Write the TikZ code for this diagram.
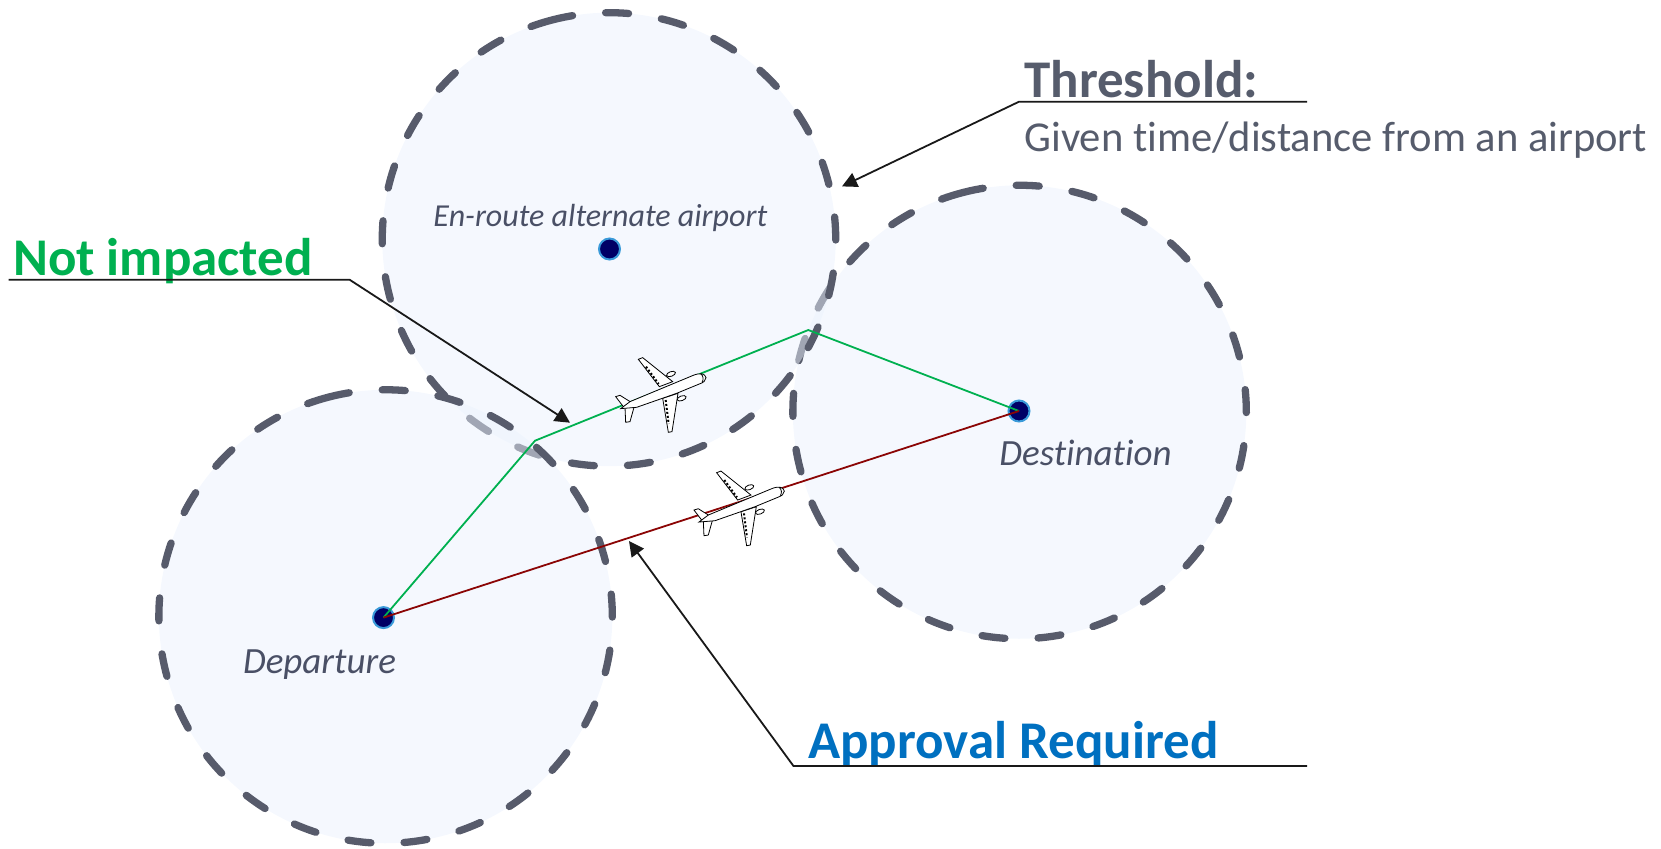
\documentclass[tikz,border=0pt]{standalone}
\usepackage{fontspec}
\setmainfont[Ligatures=NoCommon]{Carlito}
\usetikzlibrary{arrows.meta}
\definecolor{zonefill}{HTML}{EBF2FD}
\definecolor{zoneline}{HTML}{575B6B}
\definecolor{slatetext}{HTML}{565C6C}
\definecolor{placetext}{HTML}{4A5066}
\definecolor{routegreen}{HTML}{00B050}
\definecolor{routered}{HTML}{8B0505}
\definecolor{calloutblue}{HTML}{0070C0}
\definecolor{dotfill}{HTML}{000066}
\definecolor{dotline}{HTML}{3A9AD9}
\tikzset{
	zone/.style={circle,minimum size=226.7pt,inner sep=0pt,outer sep=0pt,draw=zoneline,fill=zonefill,fill opacity=0.5,line width=3.65pt,line cap=round,dash pattern=on 11.5pt off 16.59pt},
	airport/.style={circle,minimum size=10.5pt,inner sep=0pt,fill=dotfill,draw=dotline,line width=1pt},
	route/.style={line width=0.9pt},
	leader/.style={line width=0.9pt,black!90},
	placename/.style={anchor=base west,inner sep=0pt,text=placetext,font=\fontsize{#1}{20}\selectfont\itshape},
	headline/.style={anchor=base west,inner sep=0pt,font=\fontsize{26.5}{30}\selectfont\bfseries},
	plane/.pic={
		\begin{scope}[scale=1/3,draw=black,fill=white,line width=0.4pt]
			% Wings and engines
			\filldraw (-2,-20) -- (-65,-102) -- (-52,-107) -- (38,-35) -- cycle;
			\filldraw (8,15) -- (25,117) -- (36,115) -- (54,0) -- cycle;
			\filldraw[rotate around={20:(33,-58)}] (33,-58) ellipse [x radius=14,y radius=7];
			\filldraw[rotate around={20:(65,15)}] (65,15) ellipse [x radius=14,y radius=7];
			\draw[line width=1pt,densely dotted] (-42,-80) -- (-4,-28);
			\draw[line width=1pt,densely dotted] (17,20) -- (26,92);
			% Tail
			\filldraw (-133,10) -- (-120,6) -- (-85,28) -- (-110,40) -- cycle;
			\filldraw (-105,42) -- (-103,87) -- (-90,85) -- (-78,42) -- cycle;
			% Body
			\filldraw (138,-47) .. controls (135,-60) and (120,-62) .. (100,-54) -- (-90,25) -- (-118,46) -- (-70,42) -- (50,0) -- (118,-28) .. controls (130,-32) and (138,-38) .. cycle;
			\draw (122,-59) .. controls (130,-52) and (132,-42) .. (126,-33);
		\end{scope}
	}
}
\begin{document}
\begin{tikzpicture}[x=0.5pt,y=-0.5pt]
	\useasboundingbox (0,0) rectangle (1661,848);

	% Threshold circles
	\node[zone,rotate=104.3] (destinationzone) at (1019.6,412) {};
	\node[zone,rotate=104.3] (alternatezone) at (609,239.4) {};
	\node[zone,rotate=104.3] (departurezone) at (385.6,616.5) {};

	% Airports
	\node[airport] (alternate) at (609.5,249) {};
	\node[airport] (departure) at (383.5,617.6) {};
	\node[airport] (destination) at (1019,411) {};

	% Routes
	\coordinate (turnA) at (535,440.7);
	\coordinate (turnB) at (808.3,330);
	\draw[route,routegreen] (departure.center) -- (turnA) -- (turnB) -- (destination.center);
	\draw[route,routered] (departure.center) -- (destination.center);

	% Aircraft
	\pic (greenplane) at (660,393.3) {plane};
	\pic (redplane) at (738.3,506.7) {plane};

	% Labels
	\node[placename=16] (alternatelabel) at (433,226) {En-route alternate airport};
	\node[placename=18.5] (departurelabel) at (242.6,673.5) {Departure};
	\node[placename=18.5] (destinationlabel) at (999,465) {Destination};
	\node[headline,text=slatetext] (thresholdlabel) at (1024,97.5) {Threshold:};
	\node[anchor=base west,inner sep=0pt,text=slatetext,font=\fontsize{21.3}{24}\selectfont] (thresholdnote) at (1024,151) {Given time/distance from an airport};
	\node[headline,text=routegreen] (notimpactedlabel) at (12.7,275) {Not impacted};
	\node[headline,text=calloutblue] (approvallabel) at (808,758) {Approval Required};

	% Call-out lines
	\coordinate (thresholdend) at (1307,101.7);
	\coordinate (thresholdbend) at (1019,101.7);
	\coordinate (thresholdtip) at (842,186.4);
	\draw[leader,-{Triangle[length=7.5pt,width=7.5pt]}] (thresholdend) -- (thresholdbend) -- (thresholdtip);
	\coordinate (notimpactedend) at (8.5,279.7);
	\coordinate (notimpactedbend) at (349.6,279.7);
	\coordinate (notimpactedtip) at (570,422.7);
	\draw[leader,-{Triangle[length=7.5pt,width=7.5pt]}] (notimpactedend) -- (notimpactedbend) -- (notimpactedtip);
	\coordinate (approvalend) at (1307,765.9);
	\coordinate (approvalbend) at (793.4,765.9);
	\coordinate (approvaltip) at (629,541);
	\draw[leader,-{Triangle[length=7.5pt,width=7.5pt]}] (approvalend) -- (approvalbend) -- (approvaltip);
\end{tikzpicture}
\end{document}
